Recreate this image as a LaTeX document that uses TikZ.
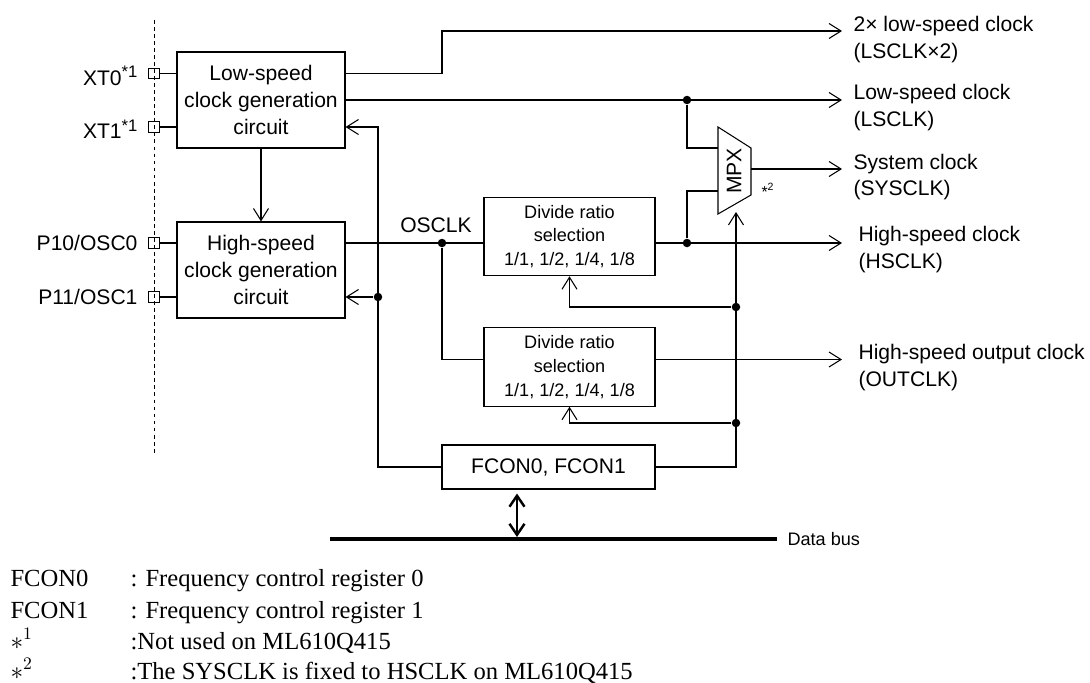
\documentclass[tikz,border=0pt]{standalone}
\usepackage{fontspec}
\setmainfont{Liberation Serif}
\setsansfont{Liberation Sans}
\usetikzlibrary{arrows.meta, positioning, calc}
\newcommand{\pinnote}[1]{\raisebox{4.2pt}{\fontsize{9.5}{10}\selectfont #1}}

\begin{document}
\begin{tikzpicture}[
    x=0.02cm, y=-0.02cm,
    font=\sffamily\fontsize{12}{15.3}\selectfont,
    line width=0.6pt,
    block/.style={
        rectangle, draw, align=center, inner sep=0pt,
        minimum width=3.36cm, minimum height=1.92cm
    },
    divider/.style={
        rectangle, draw, align=center, inner sep=0pt,
        minimum width=3.42cm, minimum height=1.57cm,
        font=\sffamily\fontsize{10.3}{13.6}\selectfont
    },
    pinbox/.style={rectangle, draw, minimum size=2.1mm, inner sep=0pt},
    pinlabel/.style={anchor=east, inner sep=0pt},
    dot/.style={circle, fill, inner sep=0pt, minimum size=1.7mm},
    outlabel/.style={anchor=west, align=left, inner sep=0pt},
    note/.style={anchor=base west, inner sep=0pt, font=\rmfamily\fontsize{14}{17}\selectfont},
    arrow/.style={-{Straight Barb[length=2.4mm,width=3mm]}},
    busarrow/.style={{Straight Barb[length=2.2mm,width=3mm]}-{Straight Barb[length=2.2mm,width=3mm]}, line width=1.4pt},
    bus/.style={line width=2.8pt}
]
\useasboundingbox (0,0) rectangle (1090,683);

% chip edge
\draw[dash pattern=on 2.2pt off 1.8pt, line width=0.5pt] (154,20) -- (154,455);

% Nodes
\node[pinbox] (xt0) at (154,73.5) {};
\node[pinbox] (xt1) at (154,127) {};
\node[pinbox] (osc0) at (154,243) {};
\node[pinbox] (osc1) at (154,297) {};
\node[pinlabel] at (138,76) {XT0\pinnote{*1}};
\node[pinlabel] at (138,129.5) {XT1\pinnote{*1}};
\node[pinlabel] at (138,243) {P10/OSC0};
\node[pinlabel] at (138,297) {P11/OSC1};

\node[block] (ls) at (261,100) {Low-speed\\clock generation\\circuit};
\node[block] (hs) at (261,270) {High-speed\\clock generation\\circuit};

\node[divider] (div1) at (569.5,236.5) {Divide ratio\\selection\\1/1, 1/2, 1/4, 1/8};
\node[divider] (div2) at (569.5,367) {Divide ratio\\selection\\1/1, 1/2, 1/4, 1/8};
\node[rectangle, draw, minimum width=4.26cm, minimum height=0.88cm, inner sep=0pt] (fcon) at (548.5,467) {FCON0, FCON1};

% multiplexer
\coordinate (mpxa) at (718,127);
\coordinate (mpxb) at (751,148);
\coordinate (mpxc) at (751,195);
\coordinate (mpxd) at (718,214);
\draw (mpxa) -- (mpxb) -- (mpxc) -- (mpxd) -- cycle;
\node[rotate=90] (mpx) at (734,171) {MPX};
\node[font=\sffamily\fontsize{9}{10}\selectfont, inner sep=0pt] (star2) at (768,190) {*\textsuperscript{2}};
\coordinate (in1) at (718,148);
\coordinate (in2) at (718,191);
\coordinate (mpxout) at (751,169);
\coordinate (mpxctl) at (736,212);

% junctions
\node[dot] (jls) at (687,100) {};
\node[dot] (jhs) at (687,243) {};
\node[dot] (josc) at (442,243) {};
\node[dot] (jf) at (378,297) {};
\node[dot] (jc1) at (736,307) {};
\node[dot] (jc2) at (736,423) {};
\coordinate (bend2x) at (442,31);

% outputs
\coordinate (x2end) at (842,31);
\coordinate (lsend) at (842,100);
\coordinate (sysend) at (842,169);
\coordinate (hsend) at (842,243);
\coordinate (outend) at (842,359.5);
\node[outlabel] (lx2lbl) at (853,39.5) {2× low-speed clock\\(LSCLK×2)};
\node[outlabel] (lslbl) at (853,107.5) {Low-speed clock\\(LSCLK)};
\node[outlabel] (syslbl) at (853,177) {System clock\\(SYSCLK)};
\node[outlabel] (hslbl) at (858,249.5) {High-speed clock\\(HSCLK)};
\node[outlabel] (outlbl) at (858,367.5) {High-speed output clock\\(OUTCLK)};
\node[inner sep=0pt] (osclbl) at (436,225) {OSCLK};

% data bus
\coordinate (busl) at (330,539);
\coordinate (busr) at (777,539);
\coordinate (busx) at (517,537);
\node[anchor=west, inner sep=0pt, font=\sffamily\fontsize{10.3}{12}\selectfont] (buslbl) at (787,539) {Data bus};

% Paths
\draw (xt0) -- (xt0 -| ls.west);
\draw (xt1) -- (xt1 -| ls.west);
\draw (osc0) -- (osc0 -| hs.west);
\draw (osc1) -- (osc1 -| hs.west);
\draw[arrow] (ls) -- (hs);

\draw[arrow] (ls.east |- xt0) -| (bend2x) -- (x2end);
\draw[arrow] (ls.east |- jls) -- (lsend);
\draw (jls) |- (in1);
\draw (jhs) |- (in2);
\draw[arrow] (mpxout) -- (sysend);

\draw (hs.east |- josc) -- (div1.west |- josc);
\draw (josc) |- (div2.west |- outend);
\draw[arrow] (div1.east |- jhs) -- (hsend);
\draw[arrow] (div2.east |- outend) -- (outend);

\draw[arrow] (fcon.east) -| (mpxctl);
\draw[arrow] (jc1) -| (div1.south);
\draw[arrow] (jc2) -| (div2.south);
\draw[arrow] (fcon.west) -| (jf |- xt1) -- (xt1 -| ls.east);
\draw[arrow] (jf) -- (jf -| hs.east);

\draw[bus] (busl) -- (busr);
\draw[busarrow, shorten <=0.8mm] (busx |- fcon.south) -- (busx);

% notes
\node[note] (n1) at (10,586) {FCON0};
\node[note] (n1t) at (130,586) {: Frequency control register 0};
\node[note] (n2) at (10,618) {FCON1};
\node[note] (n2t) at (130,618) {: Frequency control register 1};
\node[note] (n3) at (10,649) {$\ast^{1}$};
\node[note] (n3t) at (130,649) {:Not used on ML610Q415};
\node[note] (n4) at (10,679) {$\ast^{2}$};
\node[note] (n4t) at (130,679) {:The SYSCLK is fixed to HSCLK on ML610Q415};

\end{tikzpicture}
\end{document}
